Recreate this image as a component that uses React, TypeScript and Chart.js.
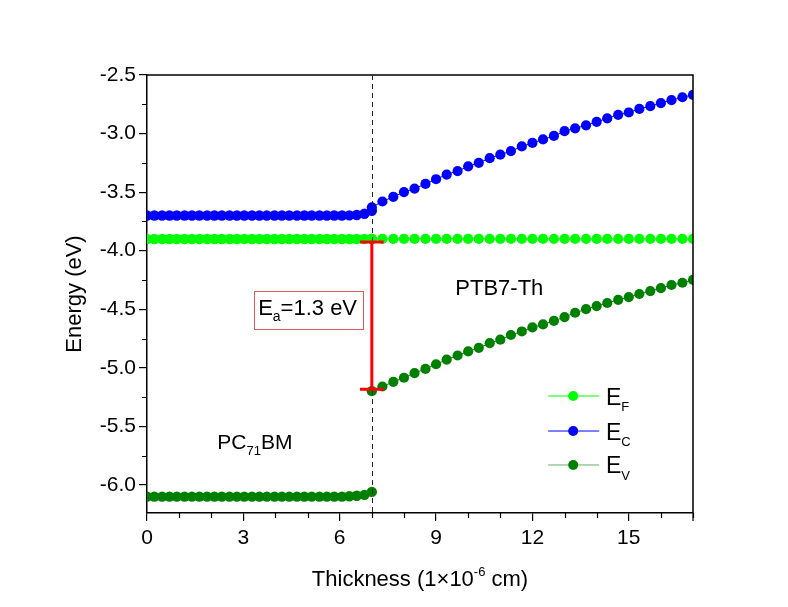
import React, { useEffect, useRef } from "react";
import { Chart, registerables } from "chart.js";

Chart.register(...registerables);

const FF = "'Liberation Sans', Arial, Helvetica, sans-serif";

// Thickness grid (1e-6 cm)
const xLeft = [0, 0.23, 0.47, 0.7, 0.93, 1.17, 1.4, 1.63, 1.87, 2.1, 2.33, 2.57, 2.8, 3.03, 3.27, 3.5, 3.73, 3.97, 4.2, 4.43, 4.67, 4.9, 5.13, 5.37, 5.6, 5.83, 6.07, 6.3, 6.53, 6.77, 7.0];
const xRight = [7.0, 7.33, 7.67, 8.0, 8.33, 8.67, 9.0, 9.33, 9.67, 10.0, 10.33, 10.67, 11.0, 11.33, 11.67, 12.0, 12.33, 12.67, 13.0, 13.33, 13.67, 14.0, 14.33, 14.67, 15.0, 15.33, 15.67, 16.0, 16.33, 16.67, 17.0];

// Fermi level
const efLeft = [-3.9, -3.9, -3.9, -3.9, -3.9, -3.9, -3.9, -3.9, -3.9, -3.9, -3.9, -3.9, -3.9, -3.9, -3.9, -3.9, -3.9, -3.9, -3.9, -3.9, -3.9, -3.9, -3.9, -3.9, -3.9, -3.9, -3.9, -3.9, -3.9, -3.9, -3.9];
const efRight = [-3.9, -3.9, -3.9, -3.9, -3.9, -3.9, -3.9, -3.9, -3.9, -3.9, -3.9, -3.9, -3.9, -3.9, -3.9, -3.9, -3.9, -3.9, -3.9, -3.9, -3.9, -3.9, -3.9, -3.9, -3.9, -3.9, -3.9, -3.9, -3.9, -3.9, -3.9];

// Conduction band
const ecLeft = [-3.7, -3.7, -3.7, -3.7, -3.7, -3.7, -3.7, -3.7, -3.7, -3.7, -3.7, -3.7, -3.7, -3.7, -3.7, -3.7, -3.7, -3.7, -3.7, -3.7, -3.7, -3.7, -3.7, -3.7, -3.7, -3.7, -3.7, -3.699, -3.695, -3.685, -3.66];
const ecRight = [-3.63, -3.58, -3.54, -3.5, -3.47, -3.43, -3.39, -3.35, -3.32, -3.28, -3.25, -3.21, -3.18, -3.15, -3.11, -3.08, -3.05, -3.02, -2.98, -2.955, -2.93, -2.9, -2.87, -2.84, -2.82, -2.79, -2.765, -2.74, -2.715, -2.69, -2.67];

// Valence band
const evLeft = [-6.1, -6.1, -6.1, -6.1, -6.1, -6.1, -6.1, -6.1, -6.1, -6.1, -6.1, -6.1, -6.1, -6.1, -6.1, -6.1, -6.1, -6.1, -6.1, -6.1, -6.1, -6.1, -6.1, -6.1, -6.1, -6.1, -6.1, -6.097, -6.093, -6.085, -6.06];
const evRight = [-5.2, -5.16, -5.12, -5.085, -5.045, -5.01, -4.97, -4.93, -4.895, -4.86, -4.83, -4.79, -4.76, -4.72, -4.69, -4.655, -4.63, -4.6, -4.567, -4.53, -4.5, -4.473, -4.447, -4.42, -4.396, -4.37, -4.345, -4.32, -4.293, -4.274, -4.25];

const xTicks = [0, 3, 6, 9, 12, 15];
const xMinor = [1, 2, 4, 5, 7, 8, 10, 11, 13, 14, 16, 17];
const yTicks = [-6.0, -5.5, -5.0, -4.5, -4.0, -3.5, -3.0, -2.5];
const yMinor = [-5.75, -5.25, -4.75, -4.25, -3.75, -3.25, -2.75];

const interfaceX = 7;
const eaTop = -3.926;
const eaBottom = -5.184;

const C_EF = "#00ff00";
const C_EC = "#0000ff";
const C_EV = "#008000";

const pts = (xs: number[], ys: number[]) => xs.map((x, i) => ({ x, y: ys[i] }));

const ds = (data: any[], color: string, r: number) => ({
  data,
  borderColor: color,
  backgroundColor: color,
  borderWidth: 1,
  pointRadius: r,
  pointBorderWidth: 0,
  pointBackgroundColor: color,
  pointBorderColor: color,
  showLine: true,
  tension: 0,
});

function drawSub(ctx: CanvasRenderingContext2D, x: number, base: number, parts: [string, boolean][], size: number, subSize: number, drop: number, color: string) {
  let cx = x;
  ctx.fillStyle = color;
  ctx.textAlign = "left";
  ctx.textBaseline = "alphabetic";
  for (const [t, sub] of parts) {
    ctx.font = `${sub ? subSize : size}px ${FF}`;
    ctx.fillText(t, cx, sub ? base + drop : base);
    cx += ctx.measureText(t).width;
  }
  return cx - x;
}

function measureParts(ctx: CanvasRenderingContext2D, parts: [string, boolean][], size: number, subSize: number) {
  let w = 0;
  for (const [t, sub] of parts) {
    ctx.font = `${sub ? subSize : size}px ${FF}`;
    w += ctx.measureText(t).width;
  }
  return w;
}

const overlay = {
  id: "overlay",
  afterDatasetsDraw(chart: any) {
    const { ctx, chartArea: ca, scales } = chart;
    const xs = scales.x;
    const ys = scales.y;
    const px = (v: number) => xs.getPixelForValue(v);
    const py = (v: number) => ys.getPixelForValue(v);
    ctx.save();

    // frame top and right
    ctx.strokeStyle = "#000";
    ctx.lineWidth = 1.5;
    ctx.beginPath();
    ctx.moveTo(ca.left, ca.top);
    ctx.lineTo(ca.right, ca.top);
    ctx.lineTo(ca.right, ca.bottom);
    ctx.stroke();

    // minor ticks
    ctx.lineWidth = 1.2;
    ctx.beginPath();
    for (const v of yMinor) {
      const y = Math.round(py(v)) + 0.5;
      ctx.moveTo(ca.left - 5, y);
      ctx.lineTo(ca.left, y);
    }
    for (const v of xMinor) {
      const x = Math.round(px(v)) + 0.5;
      ctx.moveTo(x, ca.bottom);
      ctx.lineTo(x, ca.bottom + 5);
    }
    ctx.stroke();
    ctx.beginPath();
    ctx.moveTo(ca.right, ca.bottom);
    ctx.lineTo(ca.right, ca.bottom + 8);
    ctx.stroke();

    // dashed interface line
    ctx.strokeStyle = "#222";
    ctx.lineWidth = 1;
    ctx.setLineDash([5, 4]);
    ctx.beginPath();
    const ix = Math.round(px(interfaceX)) + 0.5;
    ctx.moveTo(ix, ca.top);
    ctx.lineTo(ix, ca.bottom);
    ctx.stroke();
    ctx.setLineDash([]);

    // error bar (Ea)
    ctx.strokeStyle = "#ff0000";
    ctx.lineWidth = 3;
    const ex = px(interfaceX);
    const yt = py(eaTop);
    const yb = py(eaBottom);
    const cap = px(interfaceX + 0.37) - ex;
    ctx.beginPath();
    ctx.moveTo(ex, yt);
    ctx.lineTo(ex, yb);
    ctx.moveTo(ex - cap, yt);
    ctx.lineTo(ex + cap, yt);
    ctx.moveTo(ex - cap, yb);
    ctx.lineTo(ex + cap, yb);
    ctx.stroke();

    // Ea box
    const bx0 = px(3.34), bx1 = px(6.73), by0 = py(-4.345), by1 = py(-4.669);
    ctx.fillStyle = "#fff";
    ctx.fillRect(bx0, by0, bx1 - bx0, by1 - by0);
    ctx.strokeStyle = "#e05a5a";
    ctx.lineWidth = 1;
    ctx.strokeRect(Math.round(bx0) + 0.5, Math.round(by0) + 0.5, Math.round(bx1 - bx0), Math.round(by1 - by0));
    drawSub(ctx, px(3.46), py(-4.55), [["E", false], ["a", true], ["=1.3 eV", false]], 22, 14, 6, "#000");

    // region labels
    drawSub(ctx, px(9.6), py(-4.379), [["PTB7-Th", false]], 22, 14, 6, "#000");
    drawSub(ctx, px(2.19), py(-5.694), [["PC", false], ["71", true], ["BM", false]], 21, 13, 6, "#000");

    // legend
    const legend: [string, string, number][] = [
      ["F", C_EF, -5.241],
      ["C", C_EC, -5.54],
      ["V", C_EV, -5.83],
    ];
    for (const [sub, color, yv] of legend) {
      const y = py(yv);
      ctx.strokeStyle = color;
      ctx.globalAlpha = color === C_EV ? 0.6 : 1;
      ctx.lineWidth = 1;
      ctx.beginPath();
      ctx.moveTo(px(12.49), y);
      ctx.lineTo(px(14.08), y);
      ctx.stroke();
      ctx.globalAlpha = 1;
      ctx.fillStyle = color;
      ctx.beginPath();
      ctx.arc(px(13.27), y, 5, 0, Math.PI * 2);
      ctx.fill();
      drawSub(ctx, px(14.29), y + 8.5, [["E", false], [sub, true]], 23, 13, 6.5, "#000");
    }

    // axis titles
    ctx.fillStyle = "#000";
    const xt: [string, boolean][] = [["Thickness (1\u00d710", false], ["-6", true], [" cm)", false]];
    const w = measureParts(ctx, xt, 22, 13);
    const cx = (ca.left + ca.right) / 2;
    const base = ca.bottom + 73;
    ctx.textBaseline = "alphabetic";
    ctx.textAlign = "left";
    let x0 = cx - w / 2;
    ctx.font = `22px ${FF}`;
    ctx.fillText("Thickness (1\u00d710", x0, base);
    x0 += ctx.measureText("Thickness (1\u00d710").width;
    ctx.font = `13px ${FF}`;
    ctx.fillText("-6", x0, base - 10);
    x0 += ctx.measureText("-6").width;
    ctx.font = `22px ${FF}`;
    ctx.fillText(" cm)", x0, base);

    ctx.save();
    ctx.translate(ca.left - 72, (ca.top + ca.bottom) / 2);
    ctx.rotate(-Math.PI / 2);
    ctx.textAlign = "center";
    ctx.textBaseline = "middle";
    ctx.font = `22px ${FF}`;
    ctx.fillText("Energy (eV)", 0, 0);
    ctx.restore();

    ctx.restore();
  },
};

export default function App() {
  const ref = useRef<HTMLCanvasElement>(null);
  useEffect(() => {
    document.body.style.margin = "0";
    document.body.style.background = "#fff";
    const canvas = ref.current!;
    const chart = new Chart(canvas, {
      type: "line",
      data: {
        datasets: [
          ds(pts(xRight, efRight), C_EF, 5.1),
          ds(pts(xRight, ecRight), C_EC, 5.1),
          ds(pts(xRight, evRight), C_EV, 5.1),
          ds(pts(xLeft, efLeft), C_EF, 5.2),
          ds(pts(xLeft, ecLeft), C_EC, 5.2),
          ds(pts(xLeft, evLeft), C_EV, 5.2),
        ],
      },
      options: {
        animation: false,
        responsive: false,
        devicePixelRatio: 1,
        layout: { padding: { left: 0, top: 75, right: 95, bottom: 0 } },
        plugins: { legend: { display: false }, tooltip: { enabled: false } },
        scales: {
          x: {
            type: "linear",
            min: 0,
            max: 17,
            afterBuildTicks: (s: any) => {
              s.ticks = xTicks.map((v) => ({ value: v }));
            },
            afterFit: (s: any) => {
              s.height = 94;
            },
            ticks: { color: "#000", font: { family: FF, size: 21 }, padding: 5, maxRotation: 0, autoSkip: false },
            grid: { display: true, drawOnChartArea: false, drawTicks: true, tickLength: 8, color: "#000", lineWidth: 1.2 },
            border: { display: true, color: "#000", width: 1.5 },
          },
          y: {
            type: "linear",
            min: -6.24,
            max: -2.5,
            afterBuildTicks: (s: any) => {
              s.ticks = yTicks.map((v) => ({ value: v }));
            },
            afterFit: (s: any) => {
              s.width = 147;
            },
            ticks: {
              color: "#000",
              font: { family: FF, size: 21 },
              padding: 3,
              autoSkip: false,
              callback: (v: any) => Number(v).toFixed(1),
            },
            grid: { display: true, drawOnChartArea: false, drawTicks: true, tickLength: 8, color: "#000", lineWidth: 1.2 },
            border: { display: true, color: "#000", width: 1.5 },
          },
        },
      },
      plugins: [overlay],
    });
    return () => chart.destroy();
  }, []);
  return <canvas ref={ref} width={788} height={607} style={{ display: "block" }} />;
}
